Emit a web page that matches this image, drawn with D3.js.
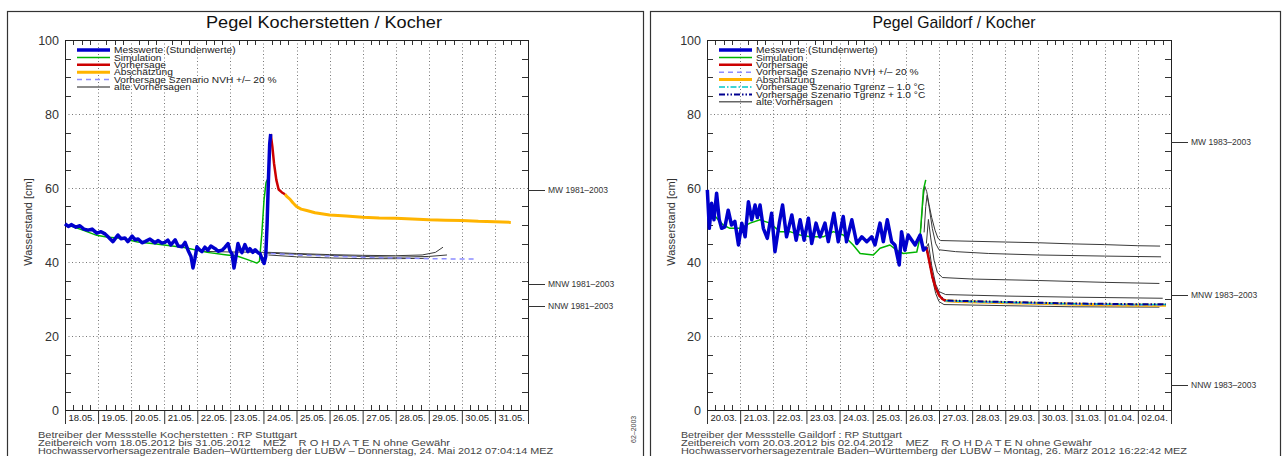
<!DOCTYPE html>
<html>
<head>
<meta charset="utf-8">
<script src="https://cdn.jsdelivr.net/npm/d3@7"></script>
<style>
  body { margin: 0; background: #fff; }
  svg { display: block; font-family: "Liberation Sans", Arial, sans-serif; }
  .pre { white-space: pre; }
</style>
</head>
<body>
<svg id="chart" width="1283" height="456"></svg>
<script>
// ---------- shared axis data ----------
const yTickValues = [0, 20, 40, 60, 80, 100];
const yGridValues = [20, 40, 60, 80];

// ---------- Pegel Kocherstetten (days since 18.05.2012 00:00, cm) ----------
const kocherDays = ["18.05.", "19.05.", "20.05.", "21.05.", "22.05.", "23.05.", "24.05.",
                    "25.05.", "26.05.", "27.05.", "28.05.", "29.05.", "30.05.", "31.05."];

const kocherMeasured = [[0,50.3],[0.1,49.6],[0.2,50.1],[0.33,49.4],[0.45,49.8],[0.57,48.9],[0.7,48.6],
  [0.82,48.9],[0.96,47.8],[1.09,48.2],[1.21,47.6],[1.3,46.8],[1.45,45.5],[1.6,47.3],[1.69,46.3],
  [1.81,46.5],[1.9,45.5],[2.03,47],[2.12,46],[2.21,46.2],[2.33,45.2],[2.42,45.5],[2.57,46.2],
  [2.72,45.2],[2.81,45.8],[2.93,45.1],[3.02,45.3],[3.11,45.9],[3.2,44.6],[3.33,46],[3.42,44.3],
  [3.54,44.1],[3.63,45.3],[3.72,43.2],[3.81,41.5],[3.87,38.4],[3.93,41],[3.99,44.1],[4.08,43.2],
  [4.14,42.8],[4.23,44],[4.32,43.2],[4.41,44.3],[4.54,43.6],[4.63,42.9],[4.75,43.2],[4.84,44],
  [4.93,45],[4.99,43],[5.05,42.2],[5.11,38.4],[5.17,41.5],[5.23,45],[5.29,43.5],[5.35,42.5],
  [5.44,44.7],[5.53,42.8],[5.59,43.6],[5.68,42.6],[5.75,43.3],[5.84,42.5],[5.9,42.2],[5.96,40.8],
  [6.02,39.6],[6.07,41.5],[6.11,50],[6.15,62],[6.19,72],[6.22,74.6]];

const kocherSimulation = [[0,50.1],[0.3,49.4],[0.6,48.4],[0.96,47.2],[1.3,46.7],[1.7,46.4],[2.2,45.4],
  [2.7,44.9],[3.0,44.6],[3.6,43.9],[4.3,42.6],[4.9,41.9],[5.2,41.6],[5.5,40.7],[5.8,39.7],[5.88,40.2],
  [5.95,47.5],[6.02,57],[6.08,61.5],[6.13,62.4]];

const kocherForecast = [[6.22,74.6],[6.27,71.2],[6.32,66.7],[6.39,62.2],[6.46,59.6],[6.56,58.8],[6.65,58.3]];

const kocherEstimate = [[6.65,58.3],[6.72,57.6],[6.8,57],[6.89,56],[7.0,55],[7.14,54.3],[7.31,53.9],
  [7.56,53.3],[8.0,52.7],[8.5,52.4],[9.0,52.1],[9.5,51.9],[10.0,51.8],[10.5,51.6],[11.0,51.4],
  [11.5,51.3],[12.0,51.2],[12.5,51.0],[13.0,50.9],[13.48,50.7]];

const kocherScenarioNvh = [[6.22,42.3],[7.0,41.9],[8.0,41.6],[9.0,41.3],[10.0,41.1],[11.0,40.9],[12.0,40.8],[12.46,40.8]];

const kocherOld1 = [[4.1,42.9],[5.0,42.7],[6.2,42.6],[7.0,42.3],[8.0,42.0],[9.0,41.8],[10.0,41.7],[10.8,41.9],[11.2,42.6],[11.43,44.0]];
const kocherOld2 = [[6.1,42.4],[7.0,42.1],[8.0,41.8],[9.0,41.5],[10.0,41.3],[11.0,41.5],[11.55,41.9]];
const kocherOld3 = [[6.15,41.9],[7.0,41.4],[8.0,41.1],[9.0,40.9],[10.0,40.9],[11.0,41.0]];

const kocherMarks = [["MW 1981\u20132003", 59.5], ["MNW 1981\u20132003", 34], ["NNW 1981\u20132003", 28]];

const kocherLegend = ["Messwerte (Stundenwerte)", "Simulation", "Vorhersage", "Abschätzung",
                      "Vorhersage Szenario NVH +/\u2013 20 %", "alte Vorhersagen"];

const kocherFooter = ["Betreiber der Messstelle Kocherstetten : RP Stuttgart",
  "Zeitbereich vom 18.05.2012 bis 31.05.2012    MEZ    R O H D A T E N ohne Gewähr",
  "Hochwasservorhersagezentrale Baden\u2013Württemberg der LUBW \u2013 Donnerstag, 24. Mai 2012 07:04:14 MEZ"];

// ---------- Pegel Gaildorf (days since 20.03.2012 00:00, cm) ----------
const gaildorfDays = ["20.03.", "21.03.", "22.03.", "23.03.", "24.03.", "25.03.", "26.03.",
                      "27.03.", "28.03.", "29.03.", "30.03.", "31.03.", "01.04.", "02.04."];

const gaildorfMeasured = [[0.01,59.5],[0.07,49.1],[0.14,55.9],[0.21,51.4],[0.29,58.6],[0.37,51.4],
  [0.44,49.1],[0.54,49.5],[0.64,54],[0.74,50],[0.84,51],[0.95,44.6],[1.05,50.5],[1.15,46.8],
  [1.25,56.3],[1.35,51.4],[1.45,55.4],[1.52,52],[1.6,55.4],[1.7,49.1],[1.82,46.4],[1.95,53.2],
  [2.05,42.8],[2.18,50.5],[2.28,55.4],[2.4,46.8],[2.56,52.7],[2.69,45.9],[2.81,51.4],[2.93,45.9],
  [3.06,51.8],[3.16,45],[3.29,50.5],[3.41,46.8],[3.56,50.5],[3.66,45.5],[3.83,53.2],[3.96,45.5],
  [4.11,52.3],[4.21,45.5],[4.37,51.4],[4.52,45],[4.67,46.8],[4.82,45.5],[4.97,46.8],[5.07,44.6],
  [5.22,50.5],[5.32,45.5],[5.44,51.4],[5.57,45.5],[5.67,44.6],[5.8,39.2],[5.87,48.2],[5.97,43.2],
  [6.07,47.3],[6.18,45.9],[6.28,44.6],[6.43,47.3],[6.53,43.2],[6.62,44]];

const gaildorfSimulation = [[0.09,54],[0.24,52.4],[0.49,50],[0.69,49.1],[1.0,49.1],[1.3,50.5],[1.6,51.4],
  [1.9,50.5],[2.2,48.2],[2.5,48.2],[2.81,47.3],[3.11,46.8],[3.51,46.8],[3.81,48.2],[4.11,47.3],
  [4.41,44.6],[4.62,42.3],[5.02,41.9],[5.22,43.7],[5.52,44.6],[5.72,43.2],[5.92,42.3],[6.33,42.7],
  [6.43,46.8],[6.53,59.5],[6.6,62.2]];

const gaildorfForecast = [[6.62,44],[6.7,40.5],[6.8,36],[6.9,33],[7.0,31],[7.1,30],[7.2,29.5]];

const gaildorfEstimate = [[7.2,29.5],[7.6,29.3],[8.5,29.1],[9.5,28.9],[10.5,28.7],[11.5,28.5],
  [12.5,28.4],[13.4,28.3],[13.85,28.3]];

const gaildorfScenarioNvh = [[6.62,44],[6.7,40.5],[6.8,36],[6.9,33],[7.0,31],[7.1,30],[7.2,29.4],
  [8,29.2],[9,29.0],[10,28.8],[11,28.6],[12,28.5],[13,28.4],[13.85,28.4]];
const gaildorfTgrenzMinus = [[6.62,44],[6.7,40.6],[6.8,36.1],[6.9,33.1],[7.0,31.1],[7.1,30.1],[7.2,29.5],
  [8,29.3],[9,29.1],[10,28.9],[11,28.7],[12,28.6],[13,28.5],[13.85,28.5]];
const gaildorfTgrenzPlus = [[6.62,44],[6.7,40.7],[6.8,36.2],[6.9,33.2],[7.0,31.2],[7.1,30.2],[7.2,29.6],
  [8,29.4],[9,29.2],[10,29.0],[11,28.8],[12,28.7],[13,28.6],[13.85,28.6]];

const gaildorfOld1 = [[6.45,49],[6.52,57],[6.57,60.5],[6.63,59],[6.7,55.5],[6.78,52],[6.88,48.6],
  [6.97,46.4],[7.05,45.8],[8,45.6],[9,45.4],[10,45.2],[11,44.9],[12,44.7],[13,44.4],[13.67,44.3]];
const gaildorfOld2 = [[6.55,48],[6.6,55],[6.64,58],[6.7,55],[6.8,49],[6.9,45],[7.0,43.3],[7.5,42.8],
  [8.5,42.3],[10,41.9],[12,41.6],[13.7,41.4]];
const gaildorfOld3 = [[6.62,45],[6.68,51.5],[6.75,46.5],[6.85,40.5],[6.95,37.2],[7.1,35.8],[8,35.4],
  [10,35],[12,34.5],[13.65,34.2]];
const gaildorfOld4 = [[6.62,44],[6.68,45],[6.78,39],[6.9,34],[7.0,32],[7.2,31.2],[9,30.8],[11,30.5],[13.75,30.2]];
const gaildorfOld5 = [[6.6,44],[6.7,41],[6.8,35.5],[6.9,31.5],[7.0,29.3],[7.15,28.5],[9,28.2],[11,27.9],[13.65,27.8]];

const gaildorfMarks = [["MW 1983\u20132003", 72.5], ["MNW 1983\u20132003", 31.2], ["NNW 1983\u20132003", 6.8]];

const gaildorfLegend = ["Messwerte (Stundenwerte)", "Simulation", "Vorhersage",
  "Vorhersage Szenario NVH +/\u2013 20 %", "Abschätzung",
  "Vorhersage Szenario Tgrenz \u2013 1.0 °C", "Vorhersage Szenario Tgrenz + 1.0 °C", "alte Vorhersagen"];

const gaildorfFooter = ["Betreiber der Messstelle Gaildorf : RP Stuttgart",
  "Zeitbereich vom 20.03.2012 bis 02.04.2012    MEZ    R O H D A T E N ohne Gewähr",
  "Hochwasservorhersagezentrale Baden\u2013Württemberg der LUBW \u2013 Montag, 26. März 2012 16:22:42 MEZ"];

// ---------- line styles ----------
const styles = {
  measured:  { color: "#0000cc", width: 3.5, dash: null },
  sim:       { color: "#00b400", width: 1.5, dash: null },
  forecast:  { color: "#cc0000", width: 2.5, dash: null },
  estimate:  { color: "#ffb400", width: 3,   dash: null },
  nvh:       { color: "#8c8cff", width: 1.5, dash: "5,4" },
  tminus:    { color: "#00c8c8", width: 1.5, dash: "6,2,1.5,2" },
  tplus:     { color: "#000090", width: 2,   dash: "6,2,1.5,2,1.5,2" },
  old:       { color: "#3a3a3a", width: 1,   dash: null },
  oldLegend: { color: "#666",    width: 1.5, dash: null }
};

const svg = d3.select("#chart");

function drawPanel(cfg) {
  const g = svg.append("g");
  const x = d3.scaleLinear().domain([0, 14]).range([cfg.left, cfg.right]);
  const y = d3.scaleLinear().domain([0, 100]).range([410, 40]);
  const x0 = x(0), x1 = x(14), yTop = y(100), yBot = y(0);

  // outer panel frame
  g.append("rect")
    .attr("x", cfg.frameL + 0.5).attr("y", 11.5)
    .attr("width", cfg.frameR - cfg.frameL).attr("height", 480)
    .attr("fill", "none").attr("stroke", "#333").attr("stroke-width", 1.2);

  // title
  g.append("text")
    .attr("x", cfg.titleX).attr("y", 28)
    .attr("text-anchor", "middle").attr("font-size", 17).attr("fill", "#111")
    .attr("textLength", cfg.titleW).attr("lengthAdjust", "spacingAndGlyphs")
    .text(cfg.title);

  // dotted grid
  g.selectAll(".hgrid").data(yGridValues).join("line")
    .attr("x1", x0).attr("x2", x1)
    .attr("y1", d => Math.round(y(d)) + 0.5).attr("y2", d => Math.round(y(d)) + 0.5)
    .attr("stroke", "#777").attr("stroke-dasharray", "1,2.5");
  g.selectAll(".vgrid").data(d3.range(1, 14)).join("line")
    .attr("x1", d => Math.round(x(d)) + 0.5).attr("x2", d => Math.round(x(d)) + 0.5)
    .attr("y1", yTop).attr("y2", yBot)
    .attr("stroke", "#777").attr("stroke-dasharray", "1,2.5");

  // six-hour ticks on top and bottom edges
  const quarters = d3.range(0.25, 14, 0.25).filter(d => d % 1 !== 0);
  g.selectAll(".qt").data(quarters).join("line")
    .attr("x1", d => Math.round(x(d)) + 0.5).attr("x2", d => Math.round(x(d)) + 0.5)
    .attr("y1", yTop).attr("y2", yTop + 5).attr("stroke", "#333");
  g.selectAll(".qb").data(quarters).join("line")
    .attr("x1", d => Math.round(x(d)) + 0.5).attr("x2", d => Math.round(x(d)) + 0.5)
    .attr("y1", yBot).attr("y2", yBot - 5).attr("stroke", "#333");

  // 5 cm ticks on both vertical edges
  const minorY = d3.range(5, 100, 5).filter(v => v % 20 !== 0);
  g.selectAll(".yl").data(minorY).join("line")
    .attr("x1", x0).attr("x2", x0 + 6)
    .attr("y1", d => Math.round(y(d)) + 0.5).attr("y2", d => Math.round(y(d)) + 0.5)
    .attr("stroke", "#333");
  g.selectAll(".yr").data(minorY).join("line")
    .attr("x1", x1).attr("x2", x1 - 6)
    .attr("y1", d => Math.round(y(d)) + 0.5).attr("y2", d => Math.round(y(d)) + 0.5)
    .attr("stroke", "#333");

  // y labels
  const yAxis = g.append("g").attr("transform", `translate(${x0 - 2},0)`)
    .call(d3.axisLeft(y).tickValues(yTickValues).tickSize(0).tickPadding(4));
  yAxis.select(".domain").remove();
  yAxis.selectAll("text").attr("font-size", 12.5).attr("fill", "#333")
    .attr("font-family", "Liberation Sans, Arial, sans-serif");

  // date row below the plot
  const xAxis = g.append("g").attr("transform", `translate(0,${yBot})`)
    .call(d3.axisBottom(x).tickValues(d3.range(0, 15)).tickSize(14)
      .tickFormat((d, i) => i < 14 ? cfg.days[i] : ""));
  xAxis.select(".domain").remove();
  xAxis.selectAll(".tick line").attr("stroke", "#333");
  xAxis.selectAll("text").attr("font-size", 9.5).attr("fill", "#222")
    .attr("text-anchor", "start").attr("dx", 3).attr("y", 4)
    .attr("font-family", "Liberation Sans, Arial, sans-serif");

  // plot box
  g.append("rect")
    .attr("x", x0 + 0.5).attr("y", yTop + 0.5)
    .attr("width", x1 - x0).attr("height", yBot - yTop)
    .attr("fill", "none").attr("stroke", "#222");

  // y axis title
  g.append("text")
    .attr("transform", `translate(${cfg.frameL + 25},222) rotate(-90)`)
    .attr("text-anchor", "middle").attr("font-size", 11).attr("fill", "#333")
    .text("Wasserstand [cm]");

  // reference levels on the right edge
  const marks = g.selectAll(".mark").data(cfg.marks).join("g");
  marks.append("line")
    .attr("x1", x1).attr("x2", x1 + 17)
    .attr("y1", d => Math.round(y(d[1])) + 0.5).attr("y2", d => Math.round(y(d[1])) + 0.5)
    .attr("stroke", "#333");
  marks.append("text")
    .attr("x", x1 + 20).attr("y", d => y(d[1]) + 3)
    .attr("font-size", 8.5).attr("fill", "#333")
    .text(d => d[0]);

  // series
  const line = d3.line().x(d => x(d[0])).y(d => y(d[1]));
  cfg.series.forEach(([data, key]) => {
    const s = styles[key];
    g.append("path").datum(data).attr("d", line)
      .attr("fill", "none").attr("stroke", s.color).attr("stroke-width", s.width)
      .attr("stroke-dasharray", s.dash).attr("stroke-linejoin", "round");
  });

  // legend (compact rows, glyphs stretched slightly wider)
  const lg = g.append("g");
  cfg.legend.forEach(([label, key], i) => {
    const s = styles[key];
    const ly = 50 + i * 7.4;
    lg.append("line")
      .attr("x1", x0 + 12).attr("x2", x0 + 45).attr("y1", ly).attr("y2", ly)
      .attr("stroke", s.color).attr("stroke-width", s.width).attr("stroke-dasharray", s.dash);
    const t = lg.append("text")
      .attr("x", x0 + 49).attr("y", ly + 3.2)
      .attr("font-size", 9).attr("fill", "#222")
      .text(label);
    const w = t.node().getComputedTextLength();
    t.attr("textLength", w * 1.13).attr("lengthAdjust", "spacingAndGlyphs");
  });

  // footer
  g.selectAll(".foot").data(cfg.footer).join("text")
    .attr("class", "pre")
    .attr("x", cfg.frameL + 31).attr("y", (d, i) => 437.5 + i * 8.4)
    .attr("font-size", 9.8).attr("fill", "#444")
    .attr("textLength", (d, i) => cfg.footerW[i]).attr("lengthAdjust", "spacingAndGlyphs")
    .text(d => d);
}

drawPanel({
  frameL: 7, frameR: 643, left: 65, right: 528,
  title: "Pegel Kocherstetten / Kocher", titleX: 324, titleW: 236,
  days: kocherDays, marks: kocherMarks,
  series: [
    [kocherOld1, "old"], [kocherOld2, "old"], [kocherOld3, "old"],
    [kocherScenarioNvh, "nvh"],
    [kocherSimulation, "sim"],
    [kocherEstimate, "estimate"],
    [kocherForecast, "forecast"],
    [kocherMeasured, "measured"]
  ],
  legend: [[kocherLegend[0], "measured"], [kocherLegend[1], "sim"], [kocherLegend[2], "forecast"],
           [kocherLegend[3], "estimate"], [kocherLegend[4], "nvh"], [kocherLegend[5], "oldLegend"]],
  footer: kocherFooter, footerW: [259, 412, 515]
});

drawPanel({
  frameL: 650, frameR: 1280, left: 707, right: 1171,
  title: "Pegel Gaildorf / Kocher", titleX: 954, titleW: 163,
  days: gaildorfDays, marks: gaildorfMarks,
  series: [
    [gaildorfOld1, "old"], [gaildorfOld2, "old"], [gaildorfOld3, "old"],
    [gaildorfOld4, "old"], [gaildorfOld5, "old"],
    [gaildorfSimulation, "sim"],
    [gaildorfEstimate, "estimate"],
    [gaildorfScenarioNvh, "nvh"],
    [gaildorfTgrenzMinus, "tminus"],
    [gaildorfTgrenzPlus, "tplus"],
    [gaildorfForecast, "forecast"],
    [gaildorfMeasured, "measured"]
  ],
  legend: [[gaildorfLegend[0], "measured"], [gaildorfLegend[1], "sim"], [gaildorfLegend[2], "forecast"],
           [gaildorfLegend[3], "nvh"], [gaildorfLegend[4], "estimate"], [gaildorfLegend[5], "tminus"],
           [gaildorfLegend[6], "tplus"], [gaildorfLegend[7], "oldLegend"]],
  footer: gaildorfFooter, footerW: [221, 411, 506]
});

// clipped level label between the two panels
svg.append("text")
  .attr("transform", "translate(636,443) rotate(-90)")
  .attr("font-size", 7).attr("fill", "#444")
  .text("62\u20132003");
</script>
</body>
</html>
